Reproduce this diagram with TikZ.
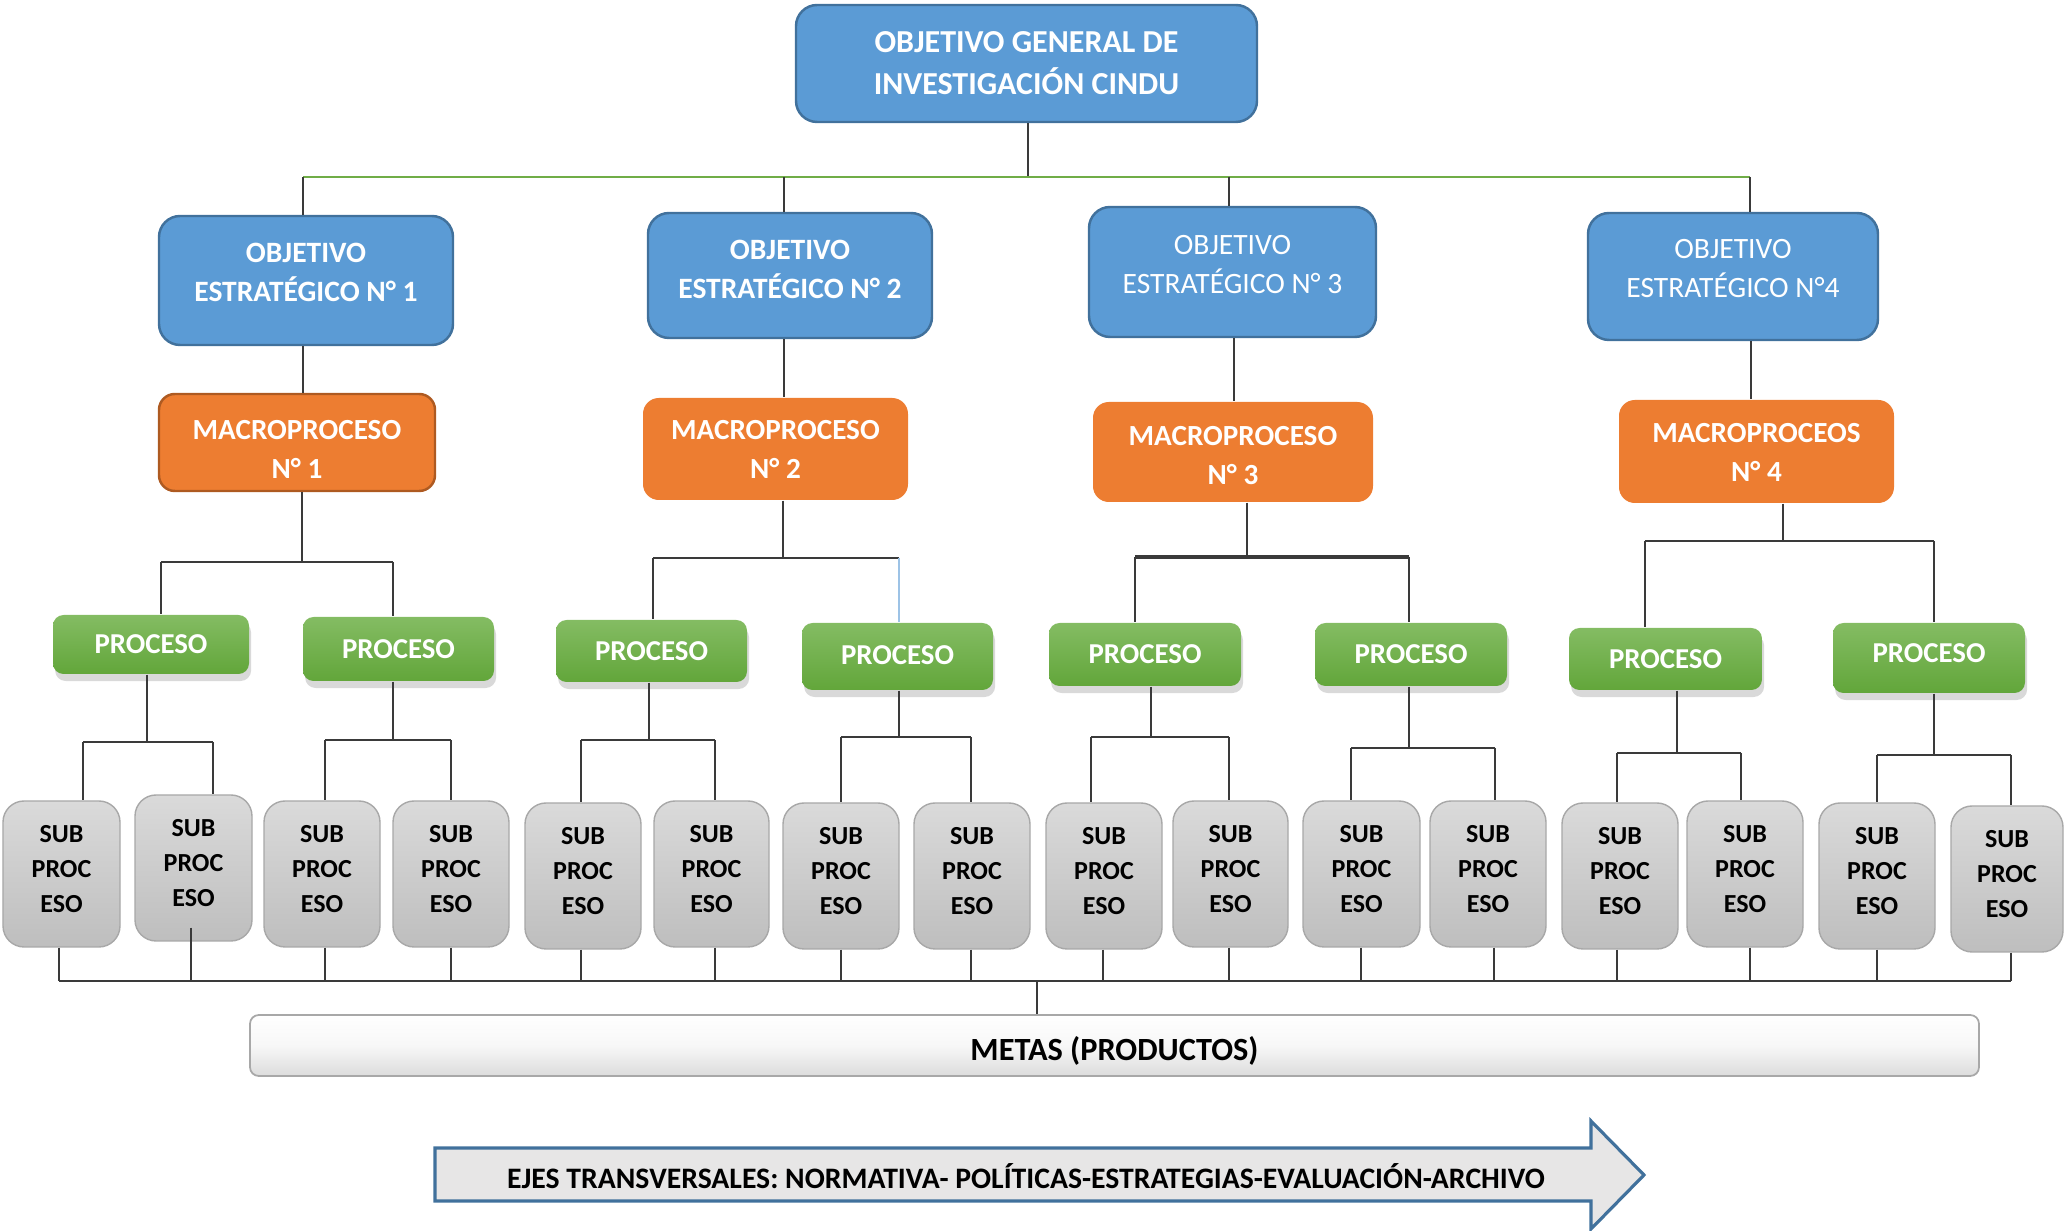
\documentclass[tikz,border=0pt]{standalone}
\usepackage{fontspec}
\setmainfont{Carlito}
\usetikzlibrary{shadows,calc}
\definecolor{bfill}{HTML}{5B9BD5}
\definecolor{bline}{HTML}{41719C}
\definecolor{ofill}{HTML}{ED7D31}
\definecolor{oline}{HTML}{AE5A21}
\definecolor{gtop}{HTML}{84BC63}
\definecolor{gbot}{HTML}{62A63A}
\definecolor{stop}{HTML}{DADADA}
\definecolor{sbot}{HTML}{BEBEBE}
\definecolor{sline}{HTML}{A8A8A8}
\definecolor{gbus}{HTML}{70AD47}
\definecolor{lblue}{HTML}{9DC3E6}
\definecolor{afill}{HTML}{E7E6E6}
\definecolor{cline}{HTML}{3A3A3A}
\definecolor{mbot}{HTML}{DCDCDC}
\tikzset{
  conn/.style={draw=cline, line width=0.6pt},
  topbox/.style={draw=bline, line width=0.7pt, fill=bfill, rounded corners=6pt, inner sep=0pt},
  oebox/.style={draw=bline, line width=0.7pt, fill=bfill, rounded corners=6pt, inner sep=0pt},
  mpbox/.style={fill=ofill, rounded corners=4.5pt, inner sep=0pt},
  pbox/.style={top color=gtop, bottom color=gbot, rounded corners=3pt, inner sep=0pt,
    drop shadow={opacity=0.3, shadow xshift=0.6pt, shadow yshift=-2pt}},
  sbox/.style={top color=stop, bottom color=sbot, draw=sline, line width=0.4pt, rounded corners=6pt, inner sep=0pt},
  metabox/.style={top color=white, bottom color=mbot, middle color=white!97!black, draw=sline, line width=0.5pt,
    rounded corners=2.5pt, inner sep=0pt},
  arrowshape/.style={fill=afill, draw=bline, line width=0.9pt, line join=miter},
  txt/.style={inner sep=0pt, align=center},
  topt/.style={txt, text=white, font=\fontsize{9.1}{11.95}\selectfont\bfseries},
  oebt/.style={txt, text=white, font=\fontsize{8.4}{11.1}\selectfont\bfseries},
  oet/.style={txt, text=white, font=\fontsize{8.4}{11.1}\selectfont},
  mpt/.style={txt, text=white, font=\fontsize{8.3}{11.1}\selectfont\bfseries},
  prt/.style={txt, text=white, font=\fontsize{8.2}{10}\selectfont\bfseries},
  subt/.style={txt, text=black, font=\fontsize{7.4}{10}\selectfont\bfseries},
  mett/.style={txt, text=black, font=\fontsize{9.2}{11}\selectfont\bfseries},
}
% name, x1, y1, x2, y2, box style, text style, text offset (px, down), text
\newcommand\bx[9]{%
  \node[#6, minimum width={(#4-#2)*0.01cm}, minimum height={(#5-#3)*0.01cm}] (#1) at ({(#2+#4)/2},{(#3+#5)/2}) {};
  \node[#7] (#1t) at ($(#1.center)+(0,#8)$) {#9};}
% parent, px, forky, child1, x1, child2, x2
\newcommand\forkdraw[7]{%
  \draw[conn] (#1.south -| #2,0) -- (#2,#3);
  \draw[conn] (#5,#3) -- (#7,#3);
  \draw[conn] (#5,#3) -- (#4.north -| #5,0);
  \draw[conn] (#7,#3) -- (#6.north -| #7,0);}
\begin{document}
\begin{tikzpicture}[x=0.01cm,y=-0.01cm]
\useasboundingbox (0,0) rectangle (2065,1231);
% top
\bx{G}{796}{5}{1257}{122}{topbox}{topt}{0}{OBJETIVO GENERAL DE\\INVESTIGACIÓN CINDU}
% strategic objectives
\bx{OE1}{159}{216}{453}{345}{oebox}{oebt}{-8}{OBJETIVO\\ESTRATÉGICO N° 1}
\bx{OE2}{648}{213}{932}{338}{oebox}{oebt}{-6}{OBJETIVO\\ESTRATÉGICO N° 2}
\bx{OE3}{1089}{207}{1376}{337}{oebox}{oet}{-7}{OBJETIVO\\ESTRATÉGICO N° 3}
\bx{OE4}{1588}{213}{1878}{340}{oebox}{oet}{-8}{OBJETIVO\\ESTRATÉGICO N°4}
% macroprocesses
\bx{MP1}{159}{394}{435}{491}{mpbox,draw=oline,line width=0.7pt}{mpt}{7}{MACROPROCESO\\N° 1}
\bx{MP2}{643}{398}{908}{500}{mpbox}{mpt}{0}{MACROPROCESO\\N° 2}
\bx{MP3}{1093}{402}{1373}{502}{mpbox}{mpt}{4}{MACROPROCESO\\N° 3}
\bx{MP4}{1619}{400}{1894}{503}{mpbox}{mpt}{1}{MACROPROCEOS\\N° 4}
% processes
\bx{P1a}{53}{615}{249}{674}{pbox}{prt}{0}{PROCESO}
\bx{P1b}{303}{617}{494}{681}{pbox}{prt}{0}{PROCESO}
\bx{P2a}{556}{620}{747}{682}{pbox}{prt}{0}{PROCESO}
\bx{P2b}{802}{623}{993}{690}{pbox}{prt}{-1}{PROCESO}
\bx{P3a}{1049}{623}{1241}{686}{pbox}{prt}{0}{PROCESO}
\bx{P3b}{1315}{623}{1507}{686}{pbox}{prt}{0}{PROCESO}
\bx{P4a}{1569}{628}{1762}{690}{pbox}{prt}{0}{PROCESO}
\bx{P4b}{1833}{623}{2025}{693}{pbox}{prt}{-5}{PROCESO}
% subprocesses
\bx{S1}{3}{801}{120}{947}{sbox}{subt}{-5}{SUB\\PROC\\ESO}
\bx{S2}{135}{795}{252}{941}{sbox}{subt}{-5}{SUB\\PROC\\ESO}
\bx{S3}{264}{801}{380}{947}{sbox}{subt}{-5}{SUB\\PROC\\ESO}
\bx{S4}{393}{801}{509}{947}{sbox}{subt}{-5}{SUB\\PROC\\ESO}
\bx{S5}{525}{803}{641}{949}{sbox}{subt}{-5}{SUB\\PROC\\ESO}
\bx{S6}{654}{801}{769}{947}{sbox}{subt}{-5}{SUB\\PROC\\ESO}
\bx{S7}{783}{803}{899}{949}{sbox}{subt}{-5}{SUB\\PROC\\ESO}
\bx{S8}{914}{803}{1030}{949}{sbox}{subt}{-5}{SUB\\PROC\\ESO}
\bx{S9}{1046}{803}{1162}{949}{sbox}{subt}{-5}{SUB\\PROC\\ESO}
\bx{S10}{1173}{801}{1288}{947}{sbox}{subt}{-5}{SUB\\PROC\\ESO}
\bx{S11}{1303}{801}{1420}{947}{sbox}{subt}{-5}{SUB\\PROC\\ESO}
\bx{S12}{1430}{801}{1546}{947}{sbox}{subt}{-5}{SUB\\PROC\\ESO}
\bx{S13}{1562}{803}{1678}{949}{sbox}{subt}{-5}{SUB\\PROC\\ESO}
\bx{S14}{1687}{801}{1803}{947}{sbox}{subt}{-5}{SUB\\PROC\\ESO}
\bx{S15}{1819}{803}{1935}{949}{sbox}{subt}{-5}{SUB\\PROC\\ESO}
\bx{S16}{1951}{806}{2063}{952}{sbox}{subt}{-5}{SUB\\PROC\\ESO}
% metas
\bx{MET}{250}{1015}{1979}{1076}{metabox}{mett}{5}{METAS (PRODUCTOS)}
% arrow
\draw[arrowshape] (435,1148) -- (1591,1148) -- (1591,1121) -- (1644,1175) -- (1591,1229) -- (1591,1201) -- (435,1201) -- cycle;
\node[txt, font=\fontsize{8.45}{10}\selectfont\bfseries] (EJES) at (1026,1176) {EJES TRANSVERSALES: NORMATIVA- POLÍTICAS-ESTRATEGIAS-EVALUACIÓN-ARCHIVO};

% top connectors
\coordinate (busG) at (1028,177);
\draw[conn] (G.south -| 1028,0) -- (busG);
\draw[draw=gbus, line width=0.6pt] (303,177) -- (1750,177);
\draw[conn] (303,177) -- (OE1.north -| 303,0);
\draw[conn] (784,177) -- (OE2.north -| 784,0);
\draw[conn] (1229,177) -- (OE3.north -| 1229,0);
\draw[conn] (1750,177) -- (OE4.north -| 1750,0);
% OE -> MP
\draw[conn] (OE1.south -| 303,0) -- (MP1.north -| 303,0);
\draw[conn] (OE2.south -| 784,0) -- (MP2.north -| 784,0);
\draw[conn] (OE3.south -| 1234,0) -- (MP3.north -| 1234,0);
\draw[conn] (OE4.south -| 1751,0) -- (MP4.north -| 1751,0);
% MP -> processes
\forkdraw{MP1}{302}{562}{P1a}{161}{P1b}{393}
\draw[conn] (MP2.south -| 783,0) -- (783,558);
\draw[conn] (653,558) -- (899,558);
\draw[conn] (653,558) -- (P2a.north -| 653,0);
\draw[draw=lblue, line width=0.6pt] (899,558) -- (P2b.north -| 899,0);
\draw[conn] (MP3.south -| 1247,0) -- (1247,557);
\draw[conn, line width=1pt] (1135,557) -- (1409,557);
\draw[conn] (1135,557) -- (P3a.north -| 1135,0);
\draw[conn] (1409,557) -- (P3b.north -| 1409,0);
\forkdraw{MP4}{1783}{541}{P4a}{1645}{P4b}{1934}
% processes -> subprocesses
\forkdraw{P1a}{147}{742}{S1}{83}{S2}{213}
\forkdraw{P1b}{393}{740}{S3}{325}{S4}{451}
\forkdraw{P2a}{649}{740}{S5}{581}{S6}{715}
\forkdraw{P2b}{899}{737}{S7}{841}{S8}{971}
\forkdraw{P3a}{1151}{737}{S9}{1091}{S10}{1229}
\forkdraw{P3b}{1409}{748}{S11}{1351}{S12}{1495}
\forkdraw{P4a}{1677}{753}{S13}{1617}{S14}{1741}
\forkdraw{P4b}{1934}{755}{S15}{1877}{S16}{2011}
% subprocesses -> metas bus
\coordinate (busM) at (1037,981);
\draw[conn] (59,981) -- (2011,981);
\foreach \s/\x in {S1/59,S3/325,S4/451,S5/581,S6/715,S7/841,S8/971,S9/1103,S10/1229,S11/1361,S12/1494,S13/1617,S14/1750,S15/1877,S16/2011}
  \draw[conn] (\s.south -| \x,0) -- (\x,981);
\draw[conn] ($(S2.south -| 191,0)+(0,-14)$) -- (191,981);
\draw[conn] (busM) -- (MET.north -| 1037,0);
\end{tikzpicture}
\end{document}
